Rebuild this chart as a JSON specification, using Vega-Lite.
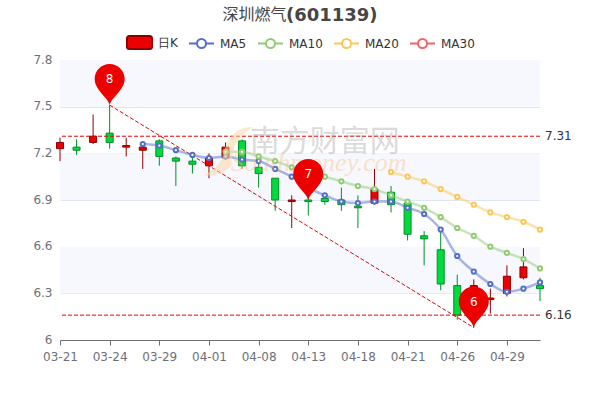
{
"$schema":"https://vega.github.io/schema/vega-lite/v6.json",
"width":480,"height":280,
"autosize":{"type":"none"},
"padding":{"left":60,"top":60,"right":60,"bottom":60},
"background":"white",
"config":{"font":"DejaVu Sans","view":{"stroke":null}},
"title":{"text":"(601139)","font":"DejaVu Sans","fontSize":18,"fontWeight":"bold","color":"#464646","anchor":"start","frame":"group","dx":226,"dy":19,"offset":0},
"datasets":{
"k":[
{"d":"03-21","o":7.23,"c":7.27,"h":7.30,"l":7.15},
{"d":"03-22","o":7.24,"c":7.22,"h":7.29,"l":7.19},
{"d":"03-23","o":7.27,"c":7.31,"h":7.45,"l":7.26},
{"d":"03-24","o":7.33,"c":7.27,"h":7.51,"l":7.23},
{"d":"03-25","o":7.24,"c":7.25,"h":7.30,"l":7.18},
{"d":"03-28","o":7.22,"c":7.24,"h":7.26,"l":7.10},
{"d":"03-29","o":7.28,"c":7.18,"h":7.29,"l":7.12},
{"d":"03-30","o":7.17,"c":7.15,"h":7.18,"l":6.99},
{"d":"03-31","o":7.15,"c":7.13,"h":7.19,"l":7.07},
{"d":"04-01","o":7.12,"c":7.17,"h":7.20,"l":7.04},
{"d":"04-06","o":7.17,"c":7.24,"h":7.27,"l":7.16},
{"d":"04-07","o":7.28,"c":7.12,"h":7.29,"l":7.10},
{"d":"04-08","o":7.11,"c":7.07,"h":7.14,"l":6.98},
{"d":"04-11","o":7.04,"c":6.90,"h":7.04,"l":6.83},
{"d":"04-12","o":6.89,"c":6.90,"h":6.93,"l":6.72},
{"d":"04-13","o":6.90,"c":6.89,"h":6.93,"l":6.80},
{"d":"04-14","o":6.91,"c":6.89,"h":6.92,"l":6.87},
{"d":"04-15","o":6.90,"c":6.87,"h":6.98,"l":6.83},
{"d":"04-18","o":6.86,"c":6.85,"h":6.93,"l":6.72},
{"d":"04-19","o":6.88,"c":6.97,"h":7.10,"l":6.87},
{"d":"04-20","o":6.95,"c":6.87,"h":6.99,"l":6.82},
{"d":"04-21","o":6.88,"c":6.68,"h":6.88,"l":6.64},
{"d":"04-22","o":6.67,"c":6.65,"h":6.70,"l":6.48},
{"d":"04-25","o":6.58,"c":6.36,"h":6.71,"l":6.32},
{"d":"04-26","o":6.35,"c":6.16,"h":6.42,"l":6.13},
{"d":"04-27","o":6.16,"c":6.35,"h":6.39,"l":6.08},
{"d":"04-28","o":6.26,"c":6.27,"h":6.33,"l":6.17},
{"d":"04-29","o":6.30,"c":6.41,"h":6.48,"l":6.28},
{"d":"05-05","o":6.40,"c":6.47,"h":6.59,"l":6.39},
{"d":"05-06","o":6.35,"c":6.33,"h":6.40,"l":6.25}
],
"ma":[
{"d":"03-28","s":"MA5","v":7.26},{"d":"03-29","s":"MA5","v":7.25},{"d":"03-30","s":"MA5","v":7.22},{"d":"03-31","s":"MA5","v":7.19},{"d":"04-01","s":"MA5","v":7.17},
{"d":"04-06","s":"MA5","v":7.18},{"d":"04-07","s":"MA5","v":7.16},{"d":"04-08","s":"MA5","v":7.15},{"d":"04-11","s":"MA5","v":7.10},{"d":"04-12","s":"MA5","v":7.05},
{"d":"04-13","s":"MA5","v":6.98},{"d":"04-14","s":"MA5","v":6.93},{"d":"04-15","s":"MA5","v":6.89},{"d":"04-18","s":"MA5","v":6.88},{"d":"04-19","s":"MA5","v":6.89},
{"d":"04-20","s":"MA5","v":6.89},{"d":"04-21","s":"MA5","v":6.85},{"d":"04-22","s":"MA5","v":6.81},{"d":"04-25","s":"MA5","v":6.71},{"d":"04-26","s":"MA5","v":6.54},
{"d":"04-27","s":"MA5","v":6.44},{"d":"04-28","s":"MA5","v":6.36},{"d":"04-29","s":"MA5","v":6.31},{"d":"05-05","s":"MA5","v":6.33},{"d":"05-06","s":"MA5","v":6.37},
{"d":"04-06","s":"MA10","v":7.21},{"d":"04-07","s":"MA10","v":7.21},{"d":"04-08","s":"MA10","v":7.18},{"d":"04-11","s":"MA10","v":7.15},{"d":"04-12","s":"MA10","v":7.11},
{"d":"04-13","s":"MA10","v":7.07},{"d":"04-14","s":"MA10","v":7.05},{"d":"04-15","s":"MA10","v":7.02},{"d":"04-18","s":"MA10","v":6.99},{"d":"04-19","s":"MA10","v":6.97},
{"d":"04-20","s":"MA10","v":6.93},{"d":"04-21","s":"MA10","v":6.89},{"d":"04-22","s":"MA10","v":6.85},{"d":"04-25","s":"MA10","v":6.79},{"d":"04-26","s":"MA10","v":6.72},
{"d":"04-27","s":"MA10","v":6.67},{"d":"04-28","s":"MA10","v":6.60},{"d":"04-29","s":"MA10","v":6.56},{"d":"05-05","s":"MA10","v":6.52},{"d":"05-06","s":"MA10","v":6.46},
{"d":"04-20","s":"MA20","v":7.08},{"d":"04-21","s":"MA20","v":7.05},{"d":"04-22","s":"MA20","v":7.02},{"d":"04-25","s":"MA20","v":6.97},{"d":"04-26","s":"MA20","v":6.92},
{"d":"04-27","s":"MA20","v":6.87},{"d":"04-28","s":"MA20","v":6.82},{"d":"04-29","s":"MA20","v":6.79},{"d":"05-05","s":"MA20","v":6.76},{"d":"05-06","s":"MA20","v":6.71}
],
"bands":[{"a":7.5,"b":7.8},{"a":6.9,"b":7.2},{"a":6.3,"b":6.6}],
"lv":[{"d":"05-06","v":7.31},{"d":"05-06","v":6.16}],
"trend":[{"d":"03-24","v":7.51},{"d":"04-27","v":6.08}],
"pins":[{"d":"03-24","v":7.51,"t":"8"},{"d":"04-13","v":6.90,"t":"7"},{"d":"04-27","v":6.08,"t":"6"}],
"legend":[{"s":"日K"},{"s":"MA5"},{"s":"MA10"},{"s":"MA20"},{"s":"MA30"}],
"wm1":[{"d":"04-14","v":7.27,"t":"南方财富网"}],
"wm2":[{"d":"04-14","v":7.14,"t":"Southmoney.com"}],
"wm3":[{"d":"04-06","v":7.2}]
},
"encoding":{
"x":{"field":"d","type":"nominal","title":null,"scale":{"type":"point","padding":0,"domain":["03-21","03-22","03-23","03-24","03-25","03-28","03-29","03-30","03-31","04-01","04-06","04-07","04-08","04-11","04-12","04-13","04-14","04-15","04-18","04-19","04-20","04-21","04-22","04-25","04-26","04-27","04-28","04-29","05-05","05-06"]},
"axis":{"labelExpr":"indexof(['03-21','03-24','03-29','04-01','04-08','04-13','04-18','04-21','04-26','04-29'],datum.label)>=0?datum.label:''","tickOpacity":{"condition":{"test":"indexof(['03-21','03-24','03-29','04-01','04-08','04-13','04-18','04-21','04-26','04-29'],datum.label)>=0","value":1},"value":0},"labelAngle":0,"labelColor":"#6e7079","labelFontSize":12,"labelPadding":6,"labelOverlap":false,"labelBound":false,"labelFlush":false,"domainColor":"#6e7079","tickColor":"#6e7079","tickSize":5,"grid":false,"labelFont":"DejaVu Sans"}},
"y":{"type":"quantitative","title":"深圳燃气","scale":{"domain":[6,7.8],"nice":false,"zero":false},
"axis":{"values":[6,6.3,6.6,6.9,7.2,7.5,7.8],"labelExpr":"''+datum.value","labelColor":"#6e7079","labelFontSize":12,"labelPadding":8,"labelOffset":-1,"domain":false,"ticks":false,"grid":true,"gridColor":"#e0e6f1","titleAngle":0,"titleX":162,"titleY":-46,"titleAlign":"left","titleBaseline":"middle","titleFontSize":16,"titleFontWeight":"normal","titleColor":"#464646","titleFont":"Noto Sans CJK SC"}}
},
"layer":[
{"data":{"name":"bands"},"mark":{"type":"rect","fill":"#f6f8fd"},"encoding":{"x":{"value":0},"x2":{"value":480},"y":{"field":"a","type":"quantitative"},"y2":{"field":"b"}}},
{"data":{"name":"k"},"mark":{"type":"rule","strokeWidth":1},"encoding":{"y":{"field":"l","type":"quantitative"},"y2":{"field":"h"},"color":{"condition":{"test":"datum.c>datum.o","value":"#8a0000"},"value":"#008f28"}}},
{"data":{"name":"k"},"mark":{"type":"bar","width":7,"strokeWidth":1},"encoding":{"y":{"field":"o","type":"quantitative"},"y2":{"field":"c"},"fill":{"condition":{"test":"datum.c>datum.o","value":"#ec0000"},"value":"#00da3c"},"stroke":{"condition":{"test":"datum.c>datum.o","value":"#8a0000"},"value":"#008f28"}}},
{"data":{"name":"lv"},"mark":{"type":"rule","stroke":"#e60000","strokeDash":[4,2],"strokeWidth":1},"encoding":{"x":null,"y":{"field":"v","type":"quantitative"}}},
{"data":{"name":"lv"},"mark":{"type":"text","align":"left","baseline":"middle","dx":5,"fontSize":12,"fill":"#333333"},"encoding":{"y":{"field":"v","type":"quantitative"},"text":{"field":"v","type":"quantitative","format":".2f"}}},
{"data":{"name":"trend"},"mark":{"type":"line","stroke":"#e60000","strokeDash":[4,2],"strokeWidth":1},"encoding":{"y":{"field":"v","type":"quantitative"}}},
{"data":{"name":"ma"},"mark":{"type":"line","interpolate":"monotone","strokeWidth":2.5,"opacity":0.5},"encoding":{"y":{"field":"v","type":"quantitative"},"color":{"field":"s","type":"nominal","legend":null,"scale":{"domain":["MA5","MA10","MA20"],"range":["#5470c6","#91cc75","#fac858"]}}}},
{"data":{"name":"ma"},"mark":{"type":"point","filled":false,"fill":"#ffffff","fillOpacity":1,"opacity":1,"size":18,"strokeWidth":2},"encoding":{"y":{"field":"v","type":"quantitative"},"color":{"field":"s","type":"nominal","legend":null,"scale":{"domain":["MA5","MA10","MA20"],"range":["#5470c6","#91cc75","#fac858"]}}}},
{"data":{"name":"wm3"},"mark":{"type":"point","filled":true,"fill":"#fbd5a5","opacity":0.55,"size":4,"shape":"M28,-26 C12,-28 0,-15 -2,2 C-6,12 -14,18 -22,22 C-10,23 0,20 6,12 C6,-5 12,-18 28,-26Z"},"encoding":{"y":{"field":"v","type":"quantitative"}}},
{"data":{"name":"wm1"},"mark":{"type":"text","font":"Noto Sans CJK SC","fontSize":30,"fill":"#999999","opacity":0.35,"align":"center","baseline":"middle"},"encoding":{"y":{"field":"v","type":"quantitative"},"text":{"field":"t"}}},
{"data":{"name":"wm2"},"mark":{"type":"text","font":"Liberation Serif","fontSize":26,"fontStyle":"italic","fill":"#f5b971","opacity":0.35,"align":"center","baseline":"middle","dx":-6},"encoding":{"y":{"field":"v","type":"quantitative"},"text":{"field":"t"}}},
{"data":{"name":"pins"},"mark":{"type":"point","filled":true,"fill":"#ec0000","opacity":1,"size":4,"shape":"M0,0 C-2,-8 -15,-15 -15,-26 A15,15 0 1 1 15,-26 C15,-15 2,-8 0,0 Z"},"encoding":{"y":{"field":"v","type":"quantitative"}}},
{"data":{"name":"pins"},"mark":{"type":"text","fill":"#ffffff","fontSize":12,"dy":-26,"align":"center","baseline":"middle"},"encoding":{"y":{"field":"v","type":"quantitative"},"text":{"field":"t"}}},
{"data":{"name":"legend"},"transform":[{"filter":"false"}],"mark":{"type":"point","filled":true,"opacity":1,"strokeWidth":2},
"encoding":{"x":{"value":0},"y":{"value":0},
"stroke":{"field":"s","type":"nominal","scale":{"domain":["日K","MA5","MA10","MA20","MA30"],"range":["#8a0000","#5470c6","#91cc75","#fac858","#ee6666"]},
"legend":{"title":null,"orient":"none","legendX":66,"legendY":-31,"direction":"horizontal","columns":5,"symbolSize":625,"labelFontSize":12,"labelColor":"#333333","labelFont":"DejaVu Sans","labelOffset":5,"columnPadding":7,"symbolStrokeWidth":2,"symbolOpacity":1,"padding":0}},
"fill":{"field":"s","type":"nominal","scale":{"domain":["日K","MA5","MA10","MA20","MA30"],"range":["#ec0000","#ffffff","#ffffff","#ffffff","#ffffff"]}},
"shape":{"field":"s","type":"nominal","scale":{"domain":["日K","MA5","MA10","MA20","MA30"],"range":["M-0.8,-0.52 L0.8,-0.52 Q1,-0.52 1,-0.32 L1,0.32 Q1,0.52 0.8,0.52 L-0.8,0.52 Q-1,0.52 -1,0.32 L-1,-0.32 Q-1,-0.52 -0.8,-0.52 Z","M-1,0 L-0.36,0 M0.36,0 L1,0 M0.36,0 A0.36,0.36 0 1 1 -0.36,0 A0.36,0.36 0 1 1 0.36,0 Z","M-1,0 L-0.36,0 M0.36,0 L1,0 M0.36,0 A0.36,0.36 0 1 1 -0.36,0 A0.36,0.36 0 1 1 0.36,0 Z","M-1,0 L-0.36,0 M0.36,0 L1,0 M0.36,0 A0.36,0.36 0 1 1 -0.36,0 A0.36,0.36 0 1 1 0.36,0 Z","M-1,0 L-0.36,0 M0.36,0 L1,0 M0.36,0 A0.36,0.36 0 1 1 -0.36,0 A0.36,0.36 0 1 1 0.36,0 Z"]}}
}}
]
}
